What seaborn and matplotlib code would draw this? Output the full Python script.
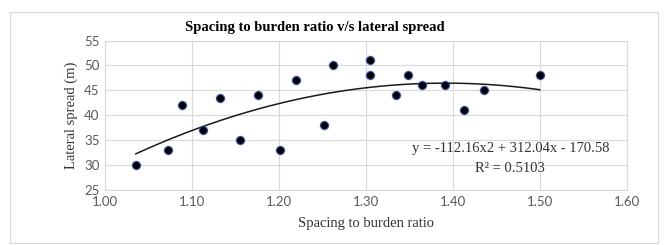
import numpy as np
import pandas as pd
import seaborn as sns
import matplotlib.pyplot as plt
from matplotlib.patches import Rectangle

# data
spacing_ratio = [1.035, 1.072, 1.088, 1.112, 1.132, 1.155, 1.176, 1.201, 1.219,
                 1.252, 1.262, 1.304, 1.304, 1.334, 1.348, 1.364, 1.391, 1.413,
                 1.435, 1.500]
lateral_spread = [30, 33, 42, 37, 43.4, 35, 44, 33, 47,
                  38, 50, 51, 48, 44, 48, 46, 46, 41,
                  45, 48]
trend_coef = [-112.16, 312.04, -170.58]
r_squared = 0.5103

df = pd.DataFrame({'Spacing to burden ratio': spacing_ratio,
                   'Lateral spread (m)': lateral_spread})

sns.set_style('white')
serif = ['Liberation Serif', 'DejaVu Serif']
sans = ['Lato', 'DejaVu Sans']

fig = plt.figure(figsize=(6.65, 2.45), dpi=100)
fig.patches.append(Rectangle((0.015, 0.01), 0.975, 0.94, transform=fig.transFigure,
                             fill=False, edgecolor='#d9d9d9', linewidth=0.8))
ax = fig.add_axes([0.158, 0.2245, 0.785, 0.61])

# trend line over the data range
xs = np.linspace(min(spacing_ratio), max(spacing_ratio), 200)
ax.plot(xs, np.polyval(trend_coef, xs), color='#1a1a1a', linewidth=1.1, zorder=3)

# glow under the markers
ax.scatter(df['Spacing to burden ratio'], df['Lateral spread (m)'], s=52,
           color='#3d5fb8', alpha=0.35, linewidths=0, zorder=3)
sns.scatterplot(data=df, x='Spacing to burden ratio', y='Lateral spread (m)', ax=ax,
                color='black', s=30, edgecolor='#1c2f7a', linewidth=0.7, zorder=4)

ax.set_xlim(1.0, 1.6)
ax.set_ylim(25, 55)
ax.set_xticks(np.arange(1.0, 1.61, 0.1))
ax.set_xticklabels([f'{v:.2f}' for v in np.arange(1.0, 1.61, 0.1)])
ax.set_yticks(range(25, 56, 5))
ax.grid(True, color='#d9d9d9', linewidth=0.8)
ax.set_axisbelow(True)
for s in ax.spines.values():
    s.set_color('#d9d9d9')
    s.set_linewidth(0.8)
ax.tick_params(length=0, pad=4, labelsize=9.5, colors='#595959')
for lab in ax.get_xticklabels() + ax.get_yticklabels():
    lab.set_family(sans)

ax.set_xlabel('Spacing to burden ratio', family=serif, fontsize=10.5, color='#333333', labelpad=7)
ax.set_ylabel('Lateral spread (m)', family=serif, fontsize=10.5, color='#333333', labelpad=4)
fig.text(0.474, 0.888, 'Spacing to burden ratio v/s lateral spread', family=serif,
         fontsize=10.5, fontweight='bold', color='black', ha='center', va='center')

ax.text(0.778, 0.275, 'y = -112.16x2 + 312.04x - 170.58', transform=ax.transAxes,
        ha='center', va='center', family=serif, fontsize=10.5, color='#333333')
ax.text(0.776, 0.147, f'R² = {r_squared:.4f}', transform=ax.transAxes,
        ha='center', va='center', family=serif, fontsize=10.5, color='#333333')

fig.savefig('out.png', dpi=100)
